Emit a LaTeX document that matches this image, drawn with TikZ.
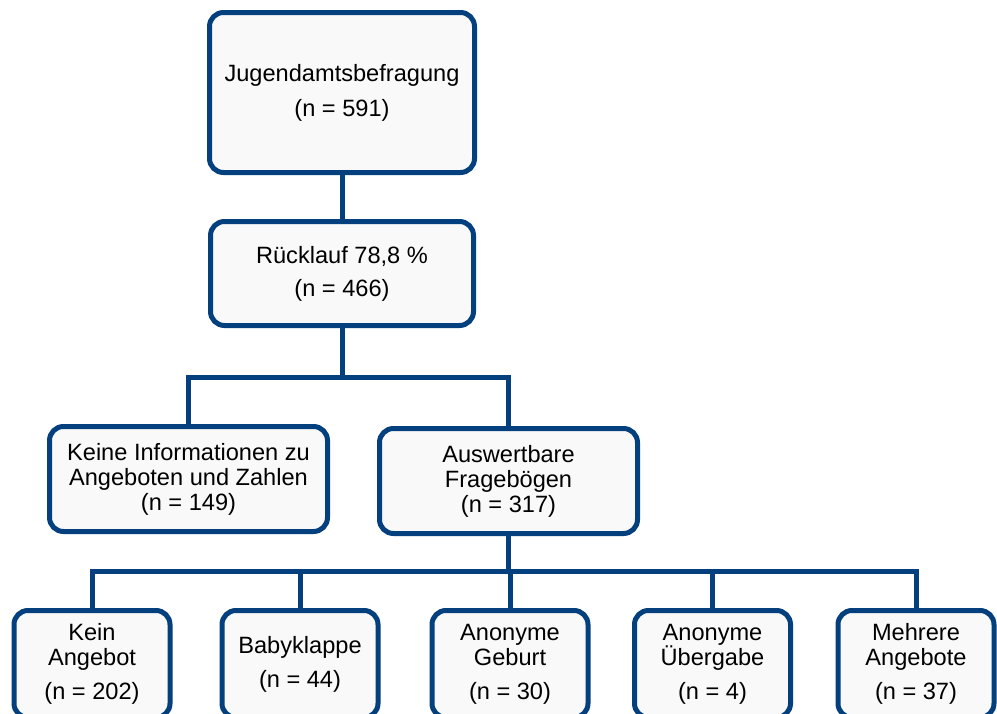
\documentclass[tikz,border=0pt]{standalone}
\usepackage{fontspec}
\setmainfont{Liberation Sans}
\usetikzlibrary{positioning, calc}
\definecolor{dunkelblau}{RGB}{4,63,126}
\definecolor{hellgrau}{RGB}{249,249,249}

\begin{document}
\begin{tikzpicture}[x=1pt, y=1pt,
    kasten/.style={draw=dunkelblau, fill=hellgrau, line width=5pt, rounded corners=14pt,
      align=center, inner sep=2pt, font=\fontsize{23.6}{25}\selectfont},
    linie/.style={draw=dunkelblau, line width=5pt}]
%Ruecklauf
  \useasboundingbox (0,0) rectangle (997,-713);
  \node [kasten, minimum width=265pt, minimum height=160pt] (jug) at (342,-92.5) {Jugendamtsbefragung\\[10pt](n = 591)};
  \node [kasten, below=44pt of jug, minimum width=263pt, minimum height=104pt] (rue) {Rücklauf 78,8 \%\\[8pt](n = 466)};
  \node [kasten, minimum width=278pt, minimum height=105pt] (keine) at (188.5,-479) {Keine Informationen zu\\Angeboten und Zahlen\\(n = 149)};
  \node [kasten, minimum width=258pt, minimum height=105pt] (ausw) at (508.5,-481) {Auswertbare\\Fragebögen\\(n = 317)};
  \node [kasten, minimum width=156pt, minimum height=107pt] (o1) at (92,-664) {Kein\\Angebot\\[9pt](n = 202)};
  \node [kasten, right=47pt of o1, minimum width=156pt, minimum height=107pt] (o2) {Babyklappe\\[9pt](n = 44)};
  \node [kasten, right=49pt of o2, minimum width=156pt, minimum height=107pt] (o3) {Anonyme\\Geburt\\[9pt](n = 30)};
  \node [kasten, right=41.5pt of o3, minimum width=156pt, minimum height=107pt] (o4) {Anonyme\\Übergabe\\[9pt](n = 4)};
  \node [kasten, right=42.5pt of o4, minimum width=156pt, minimum height=107pt] (o5) {Mehrere\\Angebote\\[9pt](n = 37)};
  \coordinate (g1) at ($(rue.south)+(0,-49.5)$);
  \coordinate (g2) at ($(ausw.south)+(0,-35.5)$);
  \draw [linie] (jug) -- (rue);
  \draw [linie] (rue) -- (g1);
  \draw [linie] (keine) |- (g1) -| (ausw);
  \draw [linie] (ausw) -- (g2);
  \draw [linie] (o1) |- (g2) -| (o5);
  \draw [linie] (o2) -- (o2 |- g2);
  \draw [linie] (o3) -- (o3 |- g2);
  \draw [linie] (o4) -- (o4 |- g2);
\end{tikzpicture}
\end{document}
